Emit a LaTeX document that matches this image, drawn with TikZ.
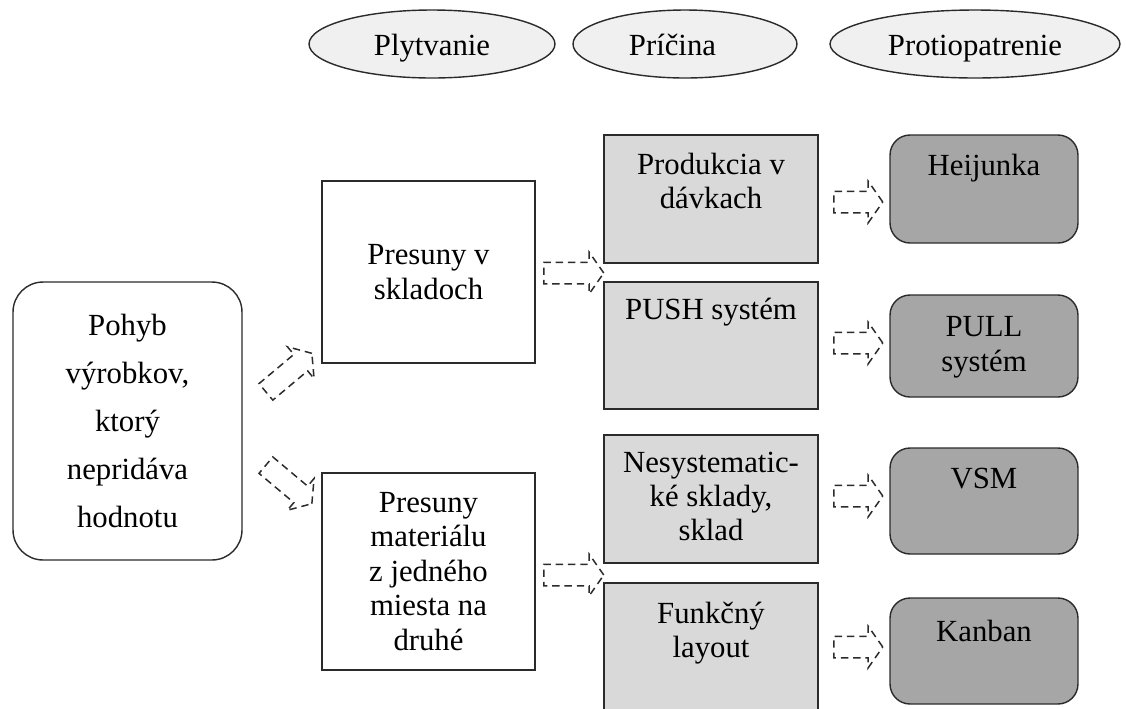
\documentclass[tikz,border=0pt]{standalone}
\usepackage{fontspec}
\setmainfont{Liberation Serif}
\usetikzlibrary{shapes.geometric,shapes.arrows}
\definecolor{ellfill}{HTML}{F0F0F0}
\definecolor{grayfill}{HTML}{D9D9D9}
\definecolor{darkfill}{HTML}{A6A6A6}
\definecolor{edge}{HTML}{2B2B2B}
\tikzset{
  txt/.style={font=\fontsize{17.5}{19.6}\selectfont, align=center, inner sep=0pt},
  wbox/.style={draw=edge, line width=0.8pt, fill=white, rectangle, inner sep=0pt, txt},
  gbox/.style={wbox, fill=grayfill},
  dbox/.style={wbox, fill=darkfill, rounded corners=0.4cm},
  ell/.style={draw=edge, ellipse, fill=ellfill, line width=0.8pt, inner sep=0pt, txt,
    text height=13.6pt, text depth=0pt},
  barrow/.style={single arrow, draw=edge, dash pattern=on 4.2pt off 2.8pt, line width=0.85pt,
    inner sep=0pt, text height=0.4cm, text depth=0pt, text width=0pt,
    single arrow head extend=0.2cm, single arrow tip angle=110, single arrow head indent=0pt,
    minimum width=0.8cm}
}
\begin{document}
\begin{tikzpicture}[x=0.02cm,y=-0.02cm]
\useasboundingbox (0,0) rectangle (1126,708);
% header ellipses
\node[ell, minimum width=4.92cm, minimum height=1.36cm] (e1) at (432,44) {Plytvanie};
\node[ell, minimum width=4.48cm, minimum height=1.36cm] (e2) at (685,44) {Príčina\hspace{0.5cm}};
\node[ell, minimum width=5.8cm, minimum height=1.36cm] (e3) at (975,44) {Protiopatrenie};
% left
\node[wbox, rounded corners=0.6cm, minimum width=4.58cm, minimum height=5.56cm,
  font=\fontsize{17.5}{27.3}\selectfont] (p) at (127.5,421) {Pohyb\\výrobkov,\\ktorý\\nepridáva\\hodnotu};
% waste
\node[wbox, minimum width=4.26cm, minimum height=3.64cm] (b2) at (428.5,272) {Presuny v\\skladoch};
\node[wbox, minimum width=4.26cm, minimum height=3.94cm] (b3) at (428.5,571.5) {Presuny\\materiálu\\z jedného\\miesta na\\druhé};
% causes
\node[gbox, minimum width=4.28cm, minimum height=2.56cm] (c1) at (711,199) {};
\node[gbox, minimum width=4.28cm, minimum height=2.54cm] (c2) at (711,345.5) {};
\node[gbox, minimum width=4.28cm, minimum height=2.56cm] (c3) at (711,499) {};
\node[gbox, minimum width=4.28cm, minimum height=2.56cm] (c4) at (711,647) {};
\node[txt, anchor=north] (tc1) at ([yshift=-0.36cm]c1.north) {Produkcia v\\dávkach};
\node[txt, anchor=north] (tc2) at ([yshift=-0.32cm]c2.north) {PUSH systém};
\node[txt, anchor=north] (tc3) at ([yshift=-0.34cm]c3.north) {Nesystematic-\\ké sklady,\\sklad};
\node[txt, anchor=north] (tc4) at ([yshift=-0.38cm]c4.north) {Funkčný\\layout};
% countermeasures
\node[dbox, minimum width=3.76cm, minimum height=2.16cm] (d1) at (984,189) {};
\node[dbox, minimum width=3.76cm, minimum height=2.04cm] (d2) at (984,346) {};
\node[dbox, minimum width=3.76cm, minimum height=2.12cm] (d3) at (984,501) {};
\node[dbox, minimum width=3.76cm, minimum height=2.12cm] (d4) at (984,651) {};
\node[txt, anchor=north] (td1) at ([yshift=-0.4cm]d1.north) {Heijunka};
\node[txt, anchor=north] (td2) at ([yshift=-0.44cm]d2.north) {PULL\\systém};
\node[txt, anchor=north] (td3) at ([yshift=-0.4cm]d3.north) {VSM};
\node[txt, anchor=north] (td4) at ([yshift=-0.44cm]d4.north) {Kanban};
% dashed block arrows
\node[barrow, minimum height=1.2cm, rotate=40] (a1) at (286,375) {};
\node[barrow, minimum height=1.2cm, rotate=-40] (a2) at (286,482) {};
\node[barrow, minimum height=1.2cm] (a3) at (570,273) {};
\node[barrow, minimum height=1.2cm] (a4) at (570,575) {};
\node[barrow, minimum height=0.98cm] (r1) at (854.5,202) {};
\node[barrow, minimum height=0.98cm] (r2) at (854.5,343) {};
\node[barrow, minimum height=0.98cm] (r3) at (854.5,496) {};
\node[barrow, minimum height=0.98cm] (r4) at (854.5,647) {};
\end{tikzpicture}
\end{document}
